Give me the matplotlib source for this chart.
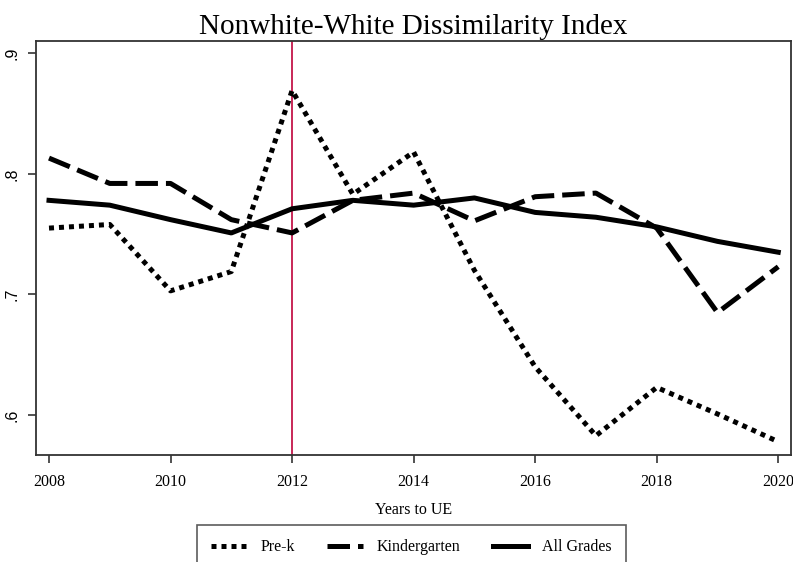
import matplotlib
matplotlib.use("Agg")
import matplotlib.pyplot as plt

years = [2008, 2009, 2010, 2011, 2012, 2013, 2014, 2015, 2016, 2017, 2018, 2019, 2020]
prek = [0.755, 0.758, 0.703, 0.719, 0.869, 0.783, 0.818, 0.720, 0.640, 0.583, 0.623, 0.601, 0.578]
kinder = [0.813, 0.792, 0.792, 0.762, 0.751, 0.778, 0.784, 0.761, 0.781, 0.784, 0.755, 0.685, 0.723]
allgrades = [0.778, 0.774, 0.762, 0.751, 0.771, 0.778, 0.774, 0.780, 0.768, 0.764, 0.756, 0.744, 0.735]

xticks = [2008, 2010, 2012, 2014, 2016, 2018, 2020]
yticks = [0.6, 0.7, 0.8, 0.9]
ylabels = ['.6', '.7', '.8', '.9']
event_year = 2012

plt.rcParams['font.family'] = ['Liberation Serif', 'DejaVu Serif']

fig = plt.figure(figsize=(7.93, 5.62), dpi=100)
ax = fig.add_axes([0.0454, 0.1904, 0.9521, 0.7366])

ax.axvline(event_year, color='#c4164a', lw=1.3, zorder=1)
ax.plot(years, prek, color='black', lw=3.6, ls=(0, (1, 1)), label='Pre-k')
ax.plot(years, kinder, color='black', lw=3.6, ls=(0, (4.5, 1.6)), label='Kindergarten')
ax.plot(years, allgrades, color='black', lw=3.6, label='All Grades')

ax.set_xlim(2007.786, 2020.21)
ax.set_ylim(0.567, 0.910)
ax.set_xticks(xticks)
ax.set_yticks(yticks)
ax.set_yticklabels(ylabels, rotation=90, va='center', family='Liberation Sans')
ax.tick_params(axis='both', direction='out', length=6, width=1.2, colors='#333333',
               labelsize=11.5, labelcolor='black')
ax.tick_params(axis='x', pad=8)
ax.tick_params(axis='y', pad=6)
for sp in ax.spines.values():
    sp.set_linewidth(1.3)
    sp.set_color('#333333')

ax.set_xlabel('Years to UE', fontsize=11.5, labelpad=8)
ax.set_title('Nonwhite-White Dissimilarity Index', fontsize=21, pad=5)

leg = fig.legend(loc='upper center', bbox_to_anchor=(0.519, 0.0658), ncol=3,
                 fontsize=11.5, frameon=True, fancybox=False, handlelength=2.2,
                 columnspacing=2.0, handletextpad=0.9, borderpad=0.9,
                 borderaxespad=0)
leg.get_frame().set_edgecolor('#333333')
leg.get_frame().set_linewidth(1.2)

fig.savefig('out.png', dpi=100)
